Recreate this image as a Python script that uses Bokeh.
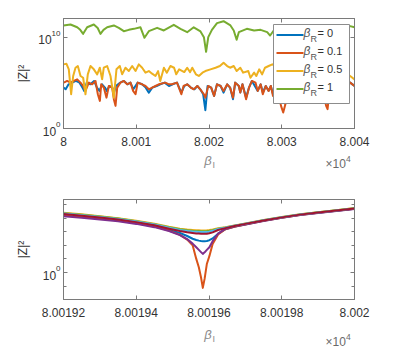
from bokeh.plotting import figure
from bokeh.layouts import column
from bokeh.models import (Range1d, FixedTicker, CustomJSTickFormatter, LogAxis,
                          LinearAxis, Label, BoxAnnotation)
from bokeh.embed import file_html
from bokeh.resources import INLINE

# ---------------- data: top panel (beta_I vs |Z|^2) ----------------
x_r0 = [80000.0, 80000.3, 80000.7, 80001.2, 80001.7, 80002.2, 80002.6, 80002.85, 80003.2, 80003.7,
        80004.2, 80004.6, 80004.95, 80005.3, 80005.7, 80005.95, 80006.3, 80006.7, 80006.95, 80007.2,
        80007.8, 80008.3, 80008.8, 80009.2, 80009.6, 80010.2, 80010.8, 80011.3, 80011.73, 80012.2,
        80012.8, 80013.3, 80013.9, 80014.5, 80015.0, 80015.6, 80016.2, 80016.6, 80017.0, 80017.5,
        80018.0, 80018.4, 80018.8, 80019.2, 80019.5, 80019.8, 80020.3, 80020.7, 80021.1, 80021.6,
        80022.0, 80022.5, 80022.9, 80023.3, 80023.6, 80024.1, 80024.3, 80024.6, 80025.1, 80025.5,
        80025.9, 80026.3, 80026.7, 80027.1, 80027.4, 80027.8, 80028.2, 80028.5, 80028.8, 80029.3,
        80030.0, 80030.8, 80031.5, 80032.5, 80033.5, 80034.5, 80035.5, 80036.2, 80037.0, 80038.0,
        80039.0, 80039.4, 80040.0]
z_r0 = [3.0e4, 1.95e4, 6.9e4, 1.05e5, 1.6e5, 1.05e5, 3.0e4, 1.3e4, 1.05e5, 6.9e4,
        1.6e5, 3.0e4, 1.3e4, 6.9e4, 3.0e4, 1.3e4, 4.5e4, 3.0e4, 8.5e3, 4.5e4,
        1.05e5, 1.6e5, 6.9e4, 1.05e5, 1.95e4, 1.05e5, 6.9e4, 3.0e4, 8.5e3, 3.0e4,
        4.5e4, 6.9e4, 1.05e5, 4.5e4, 6.9e4, 1.05e5, 8.5e3, 4.5e4, 6.9e4, 3.0e4,
        1.95e4, 4.5e4, 1.95e4, 5.6e3, 1.0e2, 4.5e4, 3.0e4, 3.6e3, 6.9e4, 4.5e4,
        8.5e3, 6.9e4, 3.0e4, 1.6e3, 1.05e5, 4.5e4, 8.5e3, 6.9e4, 2.4e3, 3.0e4,
        1.6e5, 4.5e4, 1.3e4, 6.9e4, 8.5e3, 4.5e4, 1.3e4, 4.5e4, 5.6e3, 3.0e4,
        1.3e4, 6.9e4, 1.05e5, 3.0e4, 6.9e4, 1.95e4, 4.5e4, 1.3e4, 6.9e4, 3.0e4,
        6.9e4, 1.05e5, 4.5e4]

x_r01 = [80000.05, 80000.5, 80000.96, 80001.42, 80001.88, 80002.34, 80002.7, 80003.02, 80003.48, 80003.94,
         80004.4, 80004.72, 80005.0, 80005.18, 80005.54, 80005.91, 80006.23, 80006.69, 80006.92, 80007.15,
         80007.38, 80007.83, 80008.29, 80008.75, 80009.21, 80009.57, 80009.9, 80010.2, 80010.8, 80011.27,
         80011.73, 80012.19, 80012.64, 80013.1, 80014.0, 80014.5, 80014.9, 80015.6, 80016.2, 80016.5,
         80017.0, 80017.5, 80017.9, 80018.4, 80018.8, 80019.3, 80019.5, 80019.9, 80020.3, 80020.7,
         80021.1, 80021.6, 80022.0, 80022.5, 80022.9, 80023.3, 80023.6, 80024.1, 80024.3, 80024.6,
         80025.1, 80025.5, 80025.9, 80026.4, 80026.7, 80027.1, 80027.4, 80027.8, 80028.2, 80028.5,
         80028.8, 80029.3, 80029.9, 80030.2, 80030.5, 80030.8, 80031.5, 80032.5, 80033.5, 80034.5,
         80035.5, 80036.1, 80036.3, 80036.6, 80037.5, 80038.5, 80039.4, 80040.0]
z_r01 = [1.05e5, 1.6e5, 1.05e5, 1.6e5, 2.4e5, 1.05e5, 4.5e4, 1.3e4, 1.05e5, 6.9e4,
         1.6e5, 5.6e3, 1.05e3, 6.9e4, 3.0e4, 2.4e3, 4.5e4, 3.0e4, 1.6e3, 3.0e2,
         3.0e4, 1.05e5, 1.6e5, 6.9e4, 1.05e5, 1.3e4, 5.6e3, 1.05e5, 6.9e4, 4.5e4,
         1.95e4, 3.0e4, 4.5e4, 6.9e4, 1.05e5, 6.9e4, 6.9e4, 1.05e5, 5.6e3, 4.5e4,
         6.9e4, 3.0e4, 1.95e4, 4.5e4, 1.95e4, 5.6e3, 2.4e3, 4.5e4, 3.0e4, 3.6e3,
         6.9e4, 4.5e4, 1.3e4, 6.9e4, 3.0e4, 2.4e3, 1.05e5, 4.5e4, 8.5e3, 6.9e4,
         1.6e3, 3.0e4, 1.6e5, 1.05e5, 1.3e4, 6.9e4, 5.6e3, 4.5e4, 1.3e4, 4.5e4,
         3.6e3, 3.0e4, 3.0e2, 56, 4.5e2, 3.0e4, 6.9e4, 1.95e4, 4.5e4, 1.3e4,
         4.5e4, 3.0e2, 1.3e2, 3.0e4, 6.9e4, 1.95e4, 1.05e5, 4.5e4]

x_r05 = [80000.0, 80000.41, 80000.73, 80001.05, 80001.33, 80001.65, 80001.97, 80002.34, 80002.7, 80003.02,
         80003.34, 80003.71, 80004.17, 80004.63, 80004.99, 80005.31, 80005.54, 80006.0, 80006.46, 80006.92,
         80007.28, 80007.74, 80008.06, 80008.52, 80008.98, 80009.44, 80009.9, 80010.35, 80010.81, 80011.27,
         80011.73, 80012.18, 80012.64, 80013.0, 80013.3, 80013.8, 80014.2, 80014.7, 80015.2, 80015.5,
         80015.9, 80016.6, 80017.0, 80017.4, 80017.7, 80018.2, 80018.6, 80019.1, 80019.5, 80020.2,
         80020.9, 80021.5, 80022.0, 80022.5, 80022.9, 80023.4, 80023.8, 80024.3, 80024.7, 80025.4,
         80025.7, 80026.2, 80026.5, 80026.9, 80027.3, 80027.7, 80028.2, 80028.7, 80029.5, 80030.5,
         80031.5, 80032.5, 80033.5, 80034.5, 80035.5, 80036.5, 80037.5, 80038.5, 80039.4, 80040.0]
z_r05 = [1.05e7, 1.2e7, 3.0e6, 5.6e3, 5.6e5, 4.5e6, 6.9e6, 5.6e5, 3.6e5, 5.6e3,
         8.5e5, 6.9e6, 3.0e6, 8.5e5, 4.5e6, 2.4e5, 4.5e6, 6.9e6, 5.6e5, 2.4e3,
         3.0e6, 6.9e6, 8.5e5, 4.5e6, 1.95e6, 6.9e6, 1.95e6, 1.05e7, 4.5e6, 1.3e6,
         1.95e6, 1.0e6, 5.6e5, 1.9e6, 1.6e5, 4.5e6, 1.3e6, 6.9e6, 4.5e6, 8.5e5,
         3.0e6, 1.5e6, 4.5e6, 1.5e6, 4.5e6, 8.5e5, 5.6e5, 1.3e6, 1.95e6, 3.0e6,
         4.5e6, 6.9e6, 1.6e7, 6.9e6, 4.5e6, 6.9e6, 1.95e6, 4.5e6, 1.3e6, 1.95e6,
         3.6e5, 1.3e6, 5.6e5, 3.0e6, 8.5e5, 4.5e6, 6.9e6, 1.05e7, 4.5e6, 8.5e5,
         6.9e6, 2.0e6, 6.9e6, 1.3e6, 4.5e6, 8.5e5, 4.5e6, 1.95e6, 5.6e5, 2.4e5]

x_r1 = [80000.0, 80000.96, 80001.88, 80002.3, 80002.7, 80003.25, 80004.17, 80004.7, 80005.08, 80005.5,
        80006.0, 80006.92, 80007.6, 80008.29, 80008.98, 80009.67, 80010.58, 80011.13, 80011.73, 80012.87,
        80013.79, 80015.16, 80016.08, 80017.0, 80017.9, 80018.83, 80019.3, 80019.6, 80019.9, 80020.4,
        80021.1, 80022.0, 80022.95, 80023.4, 80023.8, 80024.1, 80025.2, 80026.2, 80027.1, 80028.0,
        80028.4, 80028.9, 80030.0, 80031.5, 80033.0, 80034.5, 80036.0, 80037.5, 80038.8, 80039.4,
        80040.0]
z_r1 = [1.9e11, 2.4e11, 1.2e11, 6.3e10, 2.3e10, 1.2e11, 2.4e11, 1.0e11, 2.3e10, 6.3e10,
        1.2e11, 1.9e11, 1.05e11, 4.5e10, 6.3e10, 8.1e10, 1.2e11, 8.5e9, 4.5e10, 1.05e11,
        5.4e10, 2.2e11, 8.1e10, 3.5e10, 1.2e11, 4.2e10, 1.0e10, 2.5e8, 1.0e10, 6.3e10,
        3.4e11, 5.6e11, 1.9e11, 5.4e10, 5.1e9, 3.5e10, 8.1e10, 5.4e10, 6.3e10, 3.5e10,
        1.5e10, 5.4e10, 1.26e11, 6.3e10, 1.6e11, 7.9e10, 1.26e11, 5.0e10, 1.0e11, 1.6e11,
        1.2e11]

# ---------------- data: bottom panel (zoom around the dip) ----------------
x_zoom = [80019.2, 80019.25, 80019.3, 80019.35, 80019.4, 80019.45, 80019.49, 80019.52, 80019.54, 80019.555,
          80019.565, 80019.572, 80019.578, 80019.583, 80019.588, 80019.594, 80019.601, 80019.61, 80019.625, 80019.645,
          80019.67, 80019.7, 80019.75, 80019.8, 80019.85, 80019.9, 80019.95, 80020.0]
z_c1 = [1.78e4, 1.35e4, 1.0e4, 7.08e3, 4.47e3, 2.51e3, 1.32e3, 794, 479, 302,
        245, 219, 204, 200, 200, 209, 234, 316, 708, 1.51e3,
        2.40e3, 3.55e3, 6.46e3, 1.10e4, 1.74e4, 2.45e4, 3.47e4, 4.90e4]
z_c2 = [1.58e4, 1.23e4, 9.12e3, 6.46e3, 4.17e3, 2.34e3, 1.20e3, 575, 263, 100,
        10, 2.4, 0.447, 0.0741, 0.355, 4.17, 15.8, 126, 631, 1.51e3,
        2.29e3, 3.39e3, 6.31e3, 1.07e4, 1.70e4, 2.40e4, 3.39e4, 4.79e4]
z_c3 = [2.45e4, 1.86e4, 1.38e4, 9.77e3, 6.31e3, 3.80e3, 2.29e3, 1.66e3, 1.45e3, 1.35e3,
        1.29e3, 1.26e3, 1.23e3, 1.23e3, 1.23e3, 1.26e3, 1.32e3, 1.45e3, 1.78e3, 2.14e3,
        2.82e3, 3.98e3, 7.08e3, 1.20e4, 1.91e4, 2.69e4, 3.80e4, 5.37e4]
z_c4 = [1.38e4, 1.07e4, 7.94e3, 5.75e3, 3.72e3, 2.14e3, 1.12e3, 562, 282, 132,
        70.8, 45.7, 31.6, 23.4, 30.2, 45.7, 70.8, 200, 708, 1.58e3,
        2.34e3, 3.39e3, 6.17e3, 1.05e4, 1.66e4, 2.34e4, 3.31e4, 4.57e4]
z_c5 = [2.29e4, 1.74e4, 1.29e4, 9.12e3, 5.89e3, 3.55e3, 2.09e3, 1.48e3, 1.29e3, 1.17e3,
        1.12e3, 1.10e3, 1.07e3, 1.07e3, 1.07e3, 1.10e3, 1.15e3, 1.29e3, 1.66e3, 2.04e3,
        2.75e3, 3.89e3, 6.92e3, 1.17e4, 1.86e4, 2.63e4, 3.72e4, 5.25e4]
z_c6 = [2.14e4, 1.62e4, 1.20e4, 8.51e3, 5.50e3, 3.31e3, 1.91e3, 1.32e3, 1.12e3, 1.02e3,
        977, 955, 933, 933, 933, 955, 1.0e3, 1.15e3, 1.55e3, 1.95e3,
        2.69e3, 3.80e3, 6.76e3, 1.15e4, 1.82e4, 2.57e4, 3.63e4, 5.13e4]
z_c7 = [1.95e4, 1.48e4, 1.10e4, 7.76e3, 5.01e3, 2.95e3, 1.66e3, 1.10e3, 891, 794,
        741, 724, 708, 692, 692, 708, 759, 891, 1.32e3, 1.82e3,
        2.57e3, 3.72e3, 6.61e3, 1.12e4, 1.78e4, 2.51e4, 3.55e4, 5.01e4]

top_xticks = [80000, 80010, 80020, 80030, 80040]
top_yticks = [1, 1e10]
bot_xticks = [80019.2, 80019.4, 80019.6, 80019.8, 80020.0]
bot_yticks = [1]
bot_yminor = [0.1, 10, 100, 1e3, 1e4, 1e5]
legend_labels = ["= 0", "= 0.1", "= 0.5", "= 1"]
ytick_top_sup = ["0", "10"]

C = ["#0072BD", "#D95319", "#EDB120", "#7E2F8E", "#77AC30", "#4DBEEE", "#A2142F"]

FONT = "Liberation Sans"
AXC = "#7a7a7a"
TXT = "#333333"
LBL = "#8a8a8a"


def fig(xr, yr, top, fh, bottom):
    p = figure(width=412, height=top + fh + bottom, x_range=Range1d(*xr), y_range=Range1d(*yr),
               y_axis_type="log", output_backend="svg", toolbar_location=None,
               min_border_left=63, min_border_right=58, min_border_top=top, min_border_bottom=bottom)
    p.xgrid.visible = False
    p.ygrid.visible = False
    p.outline_line_color = AXC
    p.background_fill_color = "white"
    p.border_fill_color = "white"
    return p


def style_axis(ax, labels):
    ax.axis_line_color = AXC
    ax.major_tick_line_color = AXC
    ax.minor_tick_line_color = AXC
    ax.major_tick_in = 4
    ax.major_tick_out = 0
    ax.minor_tick_in = 3
    ax.minor_tick_out = 0
    if labels:
        ax.major_label_text_font = FONT
        ax.major_label_text_font_size = "12px"
        ax.major_label_text_color = TXT
        ax.major_label_standoff = 8
        ax.formatter = CustomJSTickFormatter(code="return String(parseFloat((tick/1e4).toFixed(6)));")
    else:
        ax.formatter = CustomJSTickFormatter(code="return '';")
        ax.major_label_standoff = 0
        ax.major_label_text_font_size = "1px"


def setup_axes(p, xt, yt, ym):
    style_axis(p.xaxis[0], True)
    p.xaxis[0].ticker = FixedTicker(ticks=xt, minor_ticks=[])
    style_axis(p.yaxis[0], False)
    p.yaxis[0].ticker = FixedTicker(ticks=yt, minor_ticks=ym)
    ax_t = LinearAxis(ticker=FixedTicker(ticks=xt, minor_ticks=[]))
    style_axis(ax_t, False)
    p.add_layout(ax_t, "above")
    ax_r = LogAxis(ticker=FixedTicker(ticks=yt, minor_ticks=ym))
    style_axis(ax_r, False)
    p.add_layout(ax_r, "right")


def put(p, x, y, text, side="center", size="12px", color=TXT, align="left", style="normal", angle=0.0):
    p.add_layout(Label(x=x, y=y, x_units="canvas", y_units="canvas", text=text,
                       text_font=FONT, text_font_size=size, text_color=color,
                       text_align=align, text_baseline="middle", text_font_style=style,
                       angle=angle), side)


def box(p, l, r, t, b, fill, line=None):
    p.add_layout(BoxAnnotation(left=l, right=r, top=t, bottom=b,
                               left_units="canvas", right_units="canvas",
                               top_units="canvas", bottom_units="canvas",
                               fill_color=fill, fill_alpha=1.0,
                               line_color=line if line else fill, line_alpha=1.0 if line else 0.0,
                               line_width=1))


def decorations(p, ytick_pos, ysups, ylab_y, xlab_y, tens_y):
    for yp, s in zip(ytick_pos, ysups):
        sw = 4.45 * len(s)
        put(p, 60 - sw, yp + 2.5, "10", side="left", size="12px", align="right")
        put(p, 60, yp - 4, s, side="right", size="8px", align="right")
    put(p, 22.5, ylab_y, "|Z|²", side="left", size="12px", color=TXT, align="center", angle=1.5708)
    put(p, 207.5, xlab_y, "β", side="below", size="13px", color=LBL, align="center", style="italic")
    put(p, 212, xlab_y + 5, "I", side="left", size="9px", color=LBL, align="left")
    put(p, 325, tens_y, "×10", side="right", size="12px", color="#6a6a6a", align="left")
    put(p, 345.6, tens_y - 5, "4", side="right", size="8.5px", color="#6a6a6a", align="left")


# ---------------- top panel ----------------
p1 = fig((80000, 80040), (1, 1.1e12), 18, 110, 49)
setup_axes(p1, top_xticks, top_yticks, [])
for xs, zs, c in [(x_r0, z_r0, C[0]), (x_r01, z_r01, C[1]), (x_r05, z_r05, C[2]), (x_r1, z_r1, C[4])]:
    p1.line(xs, zs, line_color=c, line_width=2, line_join="round")
decorations(p1, [128.3, 36.7], ytick_top_sup, 73, 159.5, 163.5)

# legend
box(p1, 273, 349, 24, 103, "white", "#8c8c8c")
rows = [34.5, 52.5, 70.5, 88.5]
for ry, c, lab in zip(rows, [C[0], C[1], C[2], C[4]], legend_labels):
    box(p1, 276, 303, ry - 1, ry + 1, c)
    put(p1, 306.5, ry - 2, "β", size="12px", color="#555555", align="center", style="italic")
    put(p1, 310, ry + 3.5, "R", size="9px", color="#555555", align="left")
    put(p1, 317, ry - 2, lab, size="11px", color=TXT, align="left")

# ---------------- bottom panel ----------------
p2 = fig((80019.2, 80020.0), (0.0104, 2.3e5), 22, 100, 55)
setup_axes(p2, bot_xticks, bot_yticks, bot_yminor)
for zs, c in zip([z_c1, z_c2, z_c3, z_c4, z_c5, z_c6, z_c7], C):
    p2.line(x_zoom, zs, line_color=c, line_width=2, line_join="round")
decorations(p2, [272 - 177], ["0"], 249 - 177, 333.5 - 177, 341.5 - 177)

layout = column(p1, p2, spacing=0)
open("out.html", "w").write(file_html(layout, INLINE))
